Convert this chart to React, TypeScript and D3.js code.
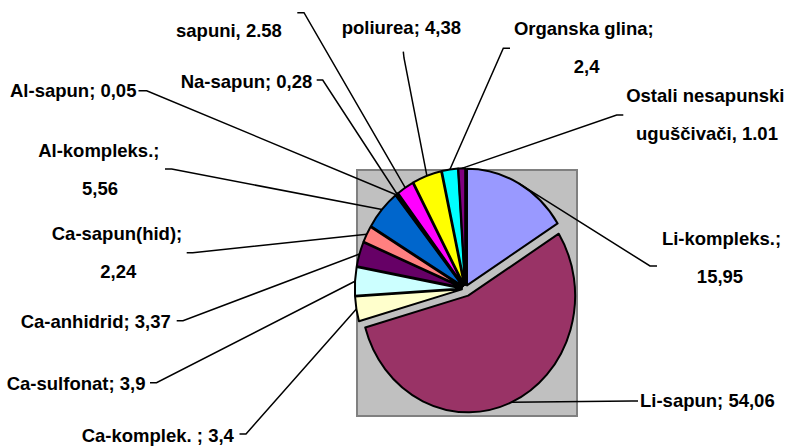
import React from "react";
import * as d3 from "d3";

// slice data (clockwise from 12 o'clock)
const categories = [
  "Li-kompleks.",
  "Li-sapun",
  "Ca-komplek.",
  "Ca-sulfonat",
  "Ca-anhidrid",
  "Ca-sapun(hid)",
  "Al-kompleks.",
  "Al-sapun",
  "Na-sapun",
  "Ostali sapuni",
  "poliurea",
  "Organska glina",
  "Ostali nesapunski uguščivači",
];
const values = [15.95, 54.06, 3.4, 3.9, 3.37, 2.24, 5.56, 0.05, 0.28, 2.58, 4.38, 2.4, 1.01];
const labelTexts = [
  ["Li-kompleks.;", "15,95"],
  ["Li-sapun; 54,06"],
  ["Ca-komplek. ; 3,4"],
  ["Ca-sulfonat; 3,9"],
  ["Ca-anhidrid; 3,37"],
  ["Ca-sapun(hid);", "2,24"],
  ["Al-kompleks.;", "5,56"],
  ["Al-sapun; 0,05"],
  ["Na-sapun; 0,28"],
  ["sapuni, 2.58"],
  ["poliurea; 4,38"],
  ["Organska glina;", "2,4"],
  ["Ostali nesapunski", "uguščivači, 1.01"],
];

// Excel 2003 default series palette
const colors = [
  "#9999FF", "#993366", "#FFFFCC", "#CCFFFF", "#660066", "#FF8080",
  "#0066CC", "#CCCCFF", "#000080", "#FF00FF", "#FFFF00", "#00FFFF", "#800080",
];

// hand placed label boxes: text lines [x, baseline], anchor, leader start + elbow
type LabelPos = {
  lines: [number, number][];
  anchor: "start" | "middle";
  lead: [number, number];
  elbow: [number, number];
};
const labelPos: LabelPos[] = [
  { lines: [[721.5, 245], [720, 283]], anchor: "middle", lead: [657, 266], elbow: [650, 266] },
  { lines: [[640, 407.3]], anchor: "start", lead: [638, 401], elbow: [632, 401] },
  { lines: [[81.7, 441.7]], anchor: "start", lead: [239.5, 434], elbow: [246, 434] },
  { lines: [[6.7, 390]], anchor: "start", lead: [150, 382.7], elbow: [156.5, 382.7] },
  { lines: [[20.7, 328.3]], anchor: "start", lead: [176.7, 320.7], elbow: [183, 320.7] },
  { lines: [[117, 240], [118.3, 277.5]], anchor: "middle", lead: [186.7, 252.7], elbow: [192.7, 252.7] },
  { lines: [[98.8, 156.5], [100, 194.5]], anchor: "middle", lead: [165, 169], elbow: [171.7, 169] },
  { lines: [[10, 96.7]], anchor: "start", lead: [138.5, 90.7], elbow: [146.7, 90.7] },
  { lines: [[180.7, 88.3]], anchor: "start", lead: [316.7, 80], elbow: [322.7, 80] },
  { lines: [[176, 37.3]], anchor: "start", lead: [297.3, 12.7], elbow: [304, 12.7] },
  { lines: [[341.7, 34]], anchor: "start", lead: [403.3, 51.7], elbow: [404, 58] },
  { lines: [[583.8, 35], [586.7, 73.3]], anchor: "middle", lead: [510, 48.3], elbow: [503.3, 48.3] },
  { lines: [[705.3, 101.7], [707, 139.5]], anchor: "middle", lead: [623.3, 115], elbow: [616.7, 115] },
];

const width = 790;
const height = 446;
const cx = 465.3;
const cy = 288.7;
const rx = 107;
const ry = 116.6; // picture is a bit stretched vertically
const k = ry / rx;
const explode = (i: number) => (i === 1 ? 7 : 3.5);

const App: React.FC = () => {
  const pie = d3
    .pie<number>()
    .sort(null)
    .value((d) => d);
  const arcs = pie(values);
  const arc = d3.arc<d3.PieArcDatum<number>>().innerRadius(0).outerRadius(rx);

  const mid = (a: d3.PieArcDatum<number>) => (a.startAngle + a.endAngle) / 2;
  const edgePoint = (a: d3.PieArcDatum<number>, i: number): [number, number] => {
    const m = mid(a);
    const r = rx + explode(i);
    return [cx + Math.sin(m) * r, cy - Math.cos(m) * r * k];
  };

  const leader = d3.line();

  return (
    <svg
      width={width}
      height={height}
      style={{ position: "absolute", left: 0, top: 0, background: "#fff" }}
      fontFamily="'Liberation Sans', Arial, sans-serif"
    >
      <rect x={357} y={170} width={220} height={246} fill="#C0C0C0" stroke="#808080" strokeWidth={2} />

      <g transform={`translate(${cx},${cy}) scale(1,${k})`}>
        {arcs.map((a, i) => {
          const m = mid(a);
          const e = explode(i);
          return (
            <path
              key={categories[i]}
              d={arc(a) || ""}
              transform={`translate(${Math.sin(m) * e},${-Math.cos(m) * e})`}
              fill={colors[i]}
              stroke="#000"
              strokeWidth={2}
              strokeLinejoin="round"
              vectorEffect="non-scaling-stroke"
            />
          );
        })}
      </g>

      {arcs.map((a, i) => {
        const p = labelPos[i];
        return (
          <path
            key={"lead" + i}
            d={leader([p.lead, p.elbow, edgePoint(a, i)]) || ""}
            fill="none"
            stroke="#000"
            strokeWidth={1.5}
          />
        );
      })}

      {labelTexts.map((lines, i) => (
        <text
          key={"lbl" + i}
          fontSize={18.5}
          fontWeight="bold"
          fill="#000"
          textAnchor={labelPos[i].anchor}
        >
          {lines.map((t, j) => (
            <tspan key={j} x={labelPos[i].lines[j][0]} y={labelPos[i].lines[j][1]}>
              {t}
            </tspan>
          ))}
        </text>
      ))}
    </svg>
  );
};

export default App;
